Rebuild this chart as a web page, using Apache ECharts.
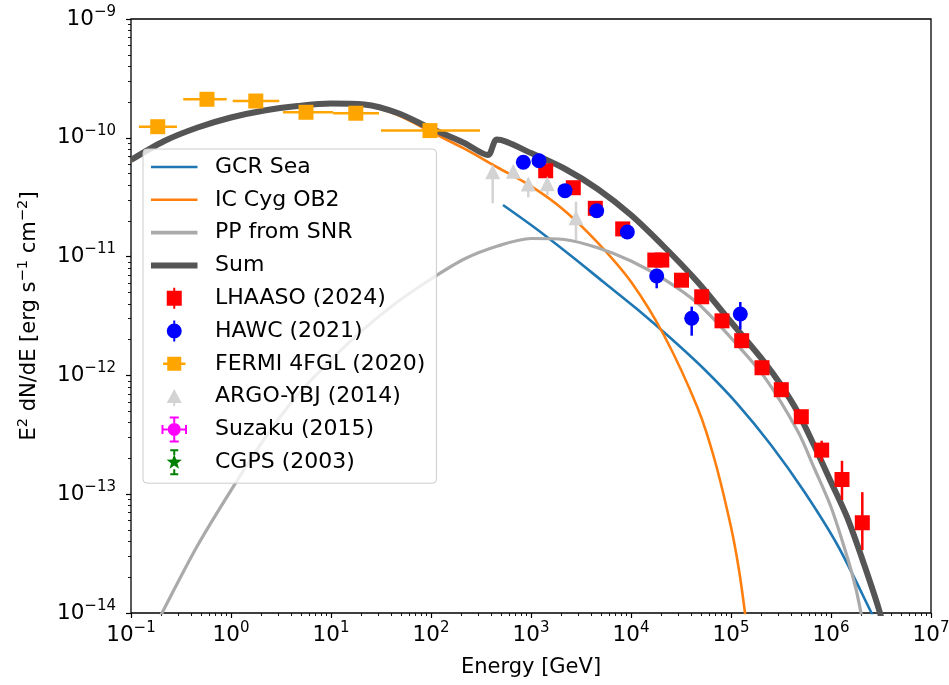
<!DOCTYPE html>
<html>
<head>
<meta charset="utf-8">
<title>Cygnus region gamma-ray SED</title>
<script src="https://cdn.jsdelivr.net/npm/echarts@6/dist/echarts.min.js"></script>
<style>
html, body { margin: 0; padding: 0; background: #fff; }
#chart { width: 949px; height: 685px; }
</style>
</head>
<body>
<div id="chart"></div>
<script>
// Energies in GeV, fluxes as E^2 dN/dE in erg s^-1 cm^-2.

// ---- model curves ----
const gcrE = [525, 1135, 2455, 5309, 11482, 24831, 53703, 116145, 251189, 543250, 1174898, 2540973, 3090295];
const gcrF = [2.718e-11, 1.707e-11, 1.031e-11, 6.11e-12, 3.62e-12, 2.064e-12, 1.132e-12, 5.74e-13, 2.595e-13, 1.043e-13, 3.664e-14, 1.0e-14, 7.05e-15];

const icE = [0.1, 0.2154, 0.4642, 1, 2.154, 4.642, 10, 21.54, 46.42, 100, 215.4, 464.2, 1000, 2154, 4642, 10000, 21544, 46416, 68234, 100000, 120226, 138038, 147911];
const icF = [6.50e-11, 9.308e-11, 1.2087e-10, 1.4533e-10, 1.6647e-10, 1.8163e-10, 1.9066e-10, 1.8700e-10, 1.5553e-10, 1.1212e-10, 8.1018e-11, 5.623e-11, 3.9149e-11, 2.4480e-11, 1.3117e-11, 6.1359e-12, 2.1463e-12, 5.3147e-13, 1.9775e-13, 5.2966e-14, 2.3017e-14, 1.0e-14, 5.925e-15];

const ppE = [0.1549, 0.2154, 0.4642, 1, 2.154, 4.642, 10, 21.54, 46.42, 100, 215.4, 464.2, 1000, 2154, 4642, 10000, 21544, 46416, 100000, 215443, 464159, 682339, 1000000, 1468926, 1778279, 1995262, 2187762];
const ppF = [6.28e-15, 1.0911e-14, 3.714e-14, 1.0785e-13, 2.926e-13, 6.853e-13, 1.3528e-12, 2.477e-12, 4.164e-12, 6.478e-12, 9.545e-12, 1.2280e-11, 1.4206e-11, 1.3933e-11, 1.1858e-11, 9.182e-12, 6.440e-12, 4.045e-12, 2.0687e-12, 9.713e-13, 3.397e-13, 1.6456e-13, 7.804e-14, 2.875e-14, 1.5924e-14, 1.0e-14, 6.79e-15];

const sumE = [0.1, 0.2154, 0.4642, 1, 2.154, 4.642, 10, 21.54, 46.42, 100, 215.4, 371.5, 457.1, 1000, 2154, 4642, 10000, 21544, 46416, 100000, 215443, 316228, 464159, 682339, 1000000, 1445440, 2152782, 3090295, 3548134];
const sumF = [6.50e-11, 9.398e-11, 1.2205e-10, 1.4818e-10, 1.6973e-10, 1.8519e-10, 1.9439e-10, 1.9066e-10, 1.6168e-10, 1.1971e-10, 9.042e-11, 7.163e-11, 9.676e-11, 7.446e-11, 5.515e-11, 3.708e-11, 2.239e-11, 1.2045e-11, 6.112e-12, 2.8150e-12, 1.2963e-12, 8.305e-13, 4.918e-13, 2.544e-13, 1.2665e-13, 6.43e-14, 2.536e-14, 1.0e-14, 5.925e-15];

// ---- measurements ----
const lhaasoE  = [1403, 2649, 4397, 8260, 17300, 20320, 31990, 50930, 81280, 127900, 204200, 318400, 504700, 807000, 1288000, 2056000];
const lhaasoF  = [5.28e-11, 3.80e-11, 2.55e-11, 1.71e-11, 9.35e-12, 9.35e-12, 6.33e-12, 4.59e-12, 2.88e-12, 1.96e-12, 1.16e-12, 7.58e-13, 4.49e-13, 2.35e-13, 1.33e-13, 5.75e-14];
const lhaasoLo = [4.9e-11, 3.55e-11, 2.40e-11, 1.60e-11, 8.8e-12, 8.8e-12, 5.95e-12, 4.30e-12, 2.70e-12, 1.83e-12, 1.08e-12, 7.0e-13, 4.1e-13, 1.88e-13, 8.93e-14, 3.39e-14];
const lhaasoHi = [5.7e-11, 4.05e-11, 2.70e-11, 1.82e-11, 9.9e-12, 9.9e-12, 6.7e-12, 4.9e-12, 3.06e-12, 2.10e-12, 1.24e-12, 8.2e-13, 4.9e-13, 2.82e-13, 1.91e-13, 1.04e-13];

const hawcE  = [838, 1202, 2188, 4540, 9190, 18070, 40460, 123900];
const hawcF  = [6.22e-11, 6.41e-11, 3.59e-11, 2.43e-11, 1.61e-11, 6.87e-12, 3.03e-12, 3.29e-12];
const hawcLo = [5.8e-11, 6.0e-11, 3.35e-11, 2.27e-11, 1.50e-11, 5.41e-12, 2.16e-12, 2.44e-12];
const hawcHi = [6.65e-11, 6.85e-11, 3.85e-11, 2.60e-11, 1.72e-11, 7.9e-12, 3.79e-12, 4.15e-12];

const fermiE   = [0.185, 0.575, 1.77, 5.62, 17.7, 97.7];
const fermiF   = [1.24e-10, 2.11e-10, 2.04e-10, 1.64e-10, 1.61e-10, 1.15e-10];
const fermiElo = [0.12, 0.333, 1.04, 3.31, 10.5, 31.6];
const fermiEhi = [0.288, 0.906, 3.04, 10.5, 30.2, 309];

const argoE  = [414, 666, 940, 1456, 2818];
const argoF  = [5.19e-11, 5.23e-11, 4.08e-11, 4.11e-11, 2.12e-11];
const argoLo = [2.81e-11, 4.6e-11, 3.15e-11, 3.30e-11, 1.38e-11];
const argoHi = [5.19e-11, 5.23e-11, 4.08e-11, 4.11e-11, 2.90e-11];

// Suzaku (X-ray) and CGPS (radio) points lie below 0.1 GeV, outside the plotted range
const suzakuData = [];
const cgpsData = [];

// ---- axis ticks ----
const xMajor = [0.1, 1, 10, 100, 1e3, 1e4, 1e5, 1e6, 1e7];
const yMajor = [1e-14, 1e-13, 1e-12, 1e-11, 1e-10, 1e-9];

function minorTicks(lowExp, highExp) {
  const out = [];
  for (let p = lowExp; p < highExp; p++) {
    for (let m = 2; m <= 9; m++) out.push(Number((m * Math.pow(10, p)).toPrecision(3)));
  }
  return out;
}
const xMinor = minorTicks(-1, 7);
const yMinor = minorTicks(-14, -9);

const FONT = '"DejaVu Sans", sans-serif';
const pairs = (xs, ys) => xs.map((x, i) => [x, ys[i]]);
const expText = p => (p < 0 ? '\u2212' + (-p) : String(p));
const powLabel = v => '{b|10}{s|' + expText(Math.round(Math.log10(v))) + '}';
const labelRich = {
  b: { fontSize: 21.5, color: '#000', fontFamily: FONT },
  s: { fontSize: 15, color: '#000', fontFamily: FONT, padding: [0, 0, 14, 0] }
};

// legend glyphs, drawn in a 59 x 26 box (handle centred at x = 23.25)
const BOX = 'M0 0L0 0M59 26L59 26';
const vBars = 'M22.25 2.5H24.25V5.5H22.25Z M22.25 20.5H24.25V23.5H22.25Z';
const icons = {
  gcr:    BOX + 'M0 11.8H46.5V14.2H0Z',
  ic:     BOX + 'M0 11.8H46.5V14.2H0Z',
  pp:     BOX + 'M0 11.2H46.5V14.8H0Z',
  sum:    BOX + 'M0 10H46.5V16H0Z',
  lhaaso: BOX + 'M15.75 5.5H30.75V20.5H15.75Z ' + vBars,
  hawc:   BOX + 'M15.75 13A7.5 7.5 0 1 1 30.75 13A7.5 7.5 0 1 1 15.75 13Z ' + vBars,
  fermi:  BOX + 'M16.25 6H30.25V20H16.25Z M12 11.8H16.25V14.2H12Z M30.25 11.8H34.5V14.2H30.25Z',
  argo:   BOX + 'M23.25 5.5L30.75 19.5H15.75Z M22.25 19.5H24.25V22.5H22.25Z',
  suzaku: BOX + 'M16.75 13A6.5 6.5 0 1 1 29.75 13A6.5 6.5 0 1 1 16.75 13Z ' +
          'M10.5 12H16.75V14H10.5Z M29.75 12H36V14H29.75Z M10.5 8.5H12.5V17.5H10.5Z M34 8.5H36V17.5H34Z ' +
          'M22.25 1H24.25V6.5H22.25Z M22.25 19.5H24.25V25H22.25Z M18.75 0H27.75V2H18.75Z M18.75 24H27.75V26H18.75Z',
  cgps:   BOX + 'M23.25 5L25.25 10.25L30.86 10.53L26.48 14.05L27.95 19.47L23.25 16.4L18.55 19.47L20.02 14.05L15.64 10.53L21.25 10.25Z ' +
          'M22.25 1H24.25V6H22.25Z M22.25 20H24.25V25H22.25Z M19.25 0H27.25V2H19.25Z M19.25 24H27.25V26H19.25Z'
};

const C = {
  gcr: '#1f77b4', ic: '#ff7f0e', pp: '#aaaaaa', sum: '#555555',
  lhaaso: '#ff0000', hawc: '#0000ff', fermi: '#ffa500', argo: '#d3d3d3',
  suzaku: '#ff00ff', cgps: '#008000'
};

function curve(name, xs, ys, color, width) {
  return {
    type: 'line', name, data: pairs(xs, ys), symbol: 'none', smooth: 0.3,
    clip: true, z: 2, silent: true,
    lineStyle: { color, width, join: 'round' }, itemStyle: { color }
  };
}

function markers(name, xs, ys, symbol, size, color, z) {
  return {
    type: 'scatter', name, data: pairs(xs, ys), symbol, symbolSize: size, z, silent: true,
    itemStyle: { color, opacity: 1, borderWidth: 0 }
  };
}

// vertical (flux) and horizontal (energy) error bars, mapped through the axes
function errorBars(name, color, E, F, fLo, fHi, eLo, eHi, z) {
  return {
    type: 'custom', name, z, silent: true,
    data: E.map((e, i) => [e, F[i], fLo[i], fHi[i], eLo[i], eHi[i]]),
    encode: { x: 0, y: 1 },
    itemStyle: { color },
    renderItem: (params, api) => {
      const e = api.value(0), f = api.value(1);
      const lo = api.value(2), hi = api.value(3), el = api.value(4), eh = api.value(5);
      const kids = [];
      if (hi > lo) {
        const a = api.coord([e, lo]), b = api.coord([e, hi]);
        kids.push({ type: 'line', shape: { x1: a[0], y1: a[1], x2: b[0], y2: b[1] }, style: { stroke: color, lineWidth: 2.5 } });
      }
      if (eh > el) {
        const a = api.coord([el, f]), b = api.coord([eh, f]);
        kids.push({ type: 'line', shape: { x1: a[0], y1: a[1], x2: b[0], y2: b[1] }, style: { stroke: color, lineWidth: 2.5 } });
      }
      return { type: 'group', children: kids };
    }
  };
}

const chart = echarts.init(document.getElementById('chart'), null, { renderer: 'canvas' });

const option = {
  animation: false,
  backgroundColor: '#ffffff',
  textStyle: { fontFamily: FONT },
  grid: {
    left: 131, right: 18, top: 19, bottom: 72,
    show: true, borderColor: '#000', borderWidth: 1.3,
    containLabel: false, outerBoundsMode: 'none'
  },
  legend: {
    orient: 'vertical', left: 143, top: 149, z: 20,
    padding: [5, 11, 8, 8],
    itemWidth: 59, itemHeight: 26, itemGap: 6.8,
    backgroundColor: 'rgba(255,255,255,0.8)',
    borderColor: '#cccccc', borderWidth: 1, borderRadius: 4,
    selectedMode: false,
    itemStyle: { borderWidth: 0 },
    textStyle: { fontFamily: FONT, fontSize: 22, color: '#000' },
    data: [
      { name: 'GCR Sea', icon: 'path://' + icons.gcr, itemStyle: { color: C.gcr } },
      { name: 'IC Cyg OB2', icon: 'path://' + icons.ic, itemStyle: { color: C.ic } },
      { name: 'PP from SNR', icon: 'path://' + icons.pp, itemStyle: { color: C.pp } },
      { name: 'Sum', icon: 'path://' + icons.sum, itemStyle: { color: C.sum } },
      { name: 'LHAASO (2024)', icon: 'path://' + icons.lhaaso, itemStyle: { color: C.lhaaso } },
      { name: 'HAWC (2021)', icon: 'path://' + icons.hawc, itemStyle: { color: C.hawc } },
      { name: 'FERMI 4FGL (2020)', icon: 'path://' + icons.fermi, itemStyle: { color: C.fermi } },
      { name: 'ARGO-YBJ (2014)', icon: 'path://' + icons.argo, itemStyle: { color: C.argo } },
      { name: 'Suzaku (2015)', icon: 'path://' + icons.suzaku, itemStyle: { color: C.suzaku } },
      { name: 'CGPS (2003)', icon: 'path://' + icons.cgps, itemStyle: { color: C.cgps } }
    ]
  },
  xAxis: [
    {
      type: 'log', logBase: 10, min: 0.1, max: 1e7, position: 'bottom',
      axisLine: { show: false }, splitLine: { show: false }, minorTick: { show: false },
      axisTick: { show: true, inside: false, length: 5, customValues: xMajor, lineStyle: { color: '#000', width: 1.2 } },
      axisLabel: { customValues: xMajor, margin: 8, formatter: powLabel, rich: labelRich },
      name: 'Energy [GeV]', nameLocation: 'middle', nameGap: 44, nameMoveOverlap: false,
      nameTextStyle: { fontSize: 21, color: '#000', fontFamily: FONT }
    },
    {
      type: 'log', logBase: 10, min: 0.1, max: 1e7, position: 'bottom',
      axisLine: { show: false }, splitLine: { show: false }, axisLabel: { show: false },
      axisTick: { show: true, inside: false, length: 3, customValues: xMinor, lineStyle: { color: '#000', width: 0.9 } }
    }
  ],
  yAxis: [
    {
      type: 'log', logBase: 10, min: 1e-14, max: 1e-9, position: 'left',
      axisLine: { show: false }, splitLine: { show: false }, minorTick: { show: false },
      axisTick: { show: true, inside: false, length: 5, customValues: yMajor, lineStyle: { color: '#000', width: 1.2 } },
      axisLabel: { customValues: yMajor, margin: 15, formatter: powLabel, rich: labelRich },
      name: '{m|E}{s|2}{m| dN/dE [erg s}{s|\u22121}{m| cm}{s|\u22122}{m|]}',
      nameLocation: 'middle', nameGap: 88, nameMoveOverlap: false,
      nameTextStyle: {
        fontSize: 21, color: '#000', fontFamily: FONT,
        rich: {
          m: { fontSize: 21, color: '#000', fontFamily: FONT },
          s: { fontSize: 14.7, color: '#000', fontFamily: FONT, padding: [0, 0, 12, 0] }
        }
      }
    },
    {
      type: 'log', logBase: 10, min: 1e-14, max: 1e-9, position: 'left',
      axisLine: { show: false }, splitLine: { show: false }, axisLabel: { show: false },
      axisTick: { show: true, inside: false, length: 3, customValues: yMinor, lineStyle: { color: '#000', width: 0.9 } }
    }
  ],
  series: [
    curve('GCR Sea', gcrE, gcrF, C.gcr, 2.6),
    curve('IC Cyg OB2', icE, icF, C.ic, 2.6),
    curve('PP from SNR', ppE, ppF, C.pp, 3.2),
    curve('Sum', sumE, sumF, C.sum, 6),

    markers('LHAASO (2024)', lhaasoE, lhaasoF, 'rect', 15, C.lhaaso, 5),
    markers('HAWC (2021)', hawcE, hawcF, 'circle', 15, C.hawc, 7),
    markers('FERMI 4FGL (2020)', fermiE, fermiF, 'rect', 15, C.fermi, 9),
    markers('ARGO-YBJ (2014)', argoE, argoF, 'triangle', 15, C.argo, 11),
    markers('Suzaku (2015)', [], suzakuData, 'circle', 13, C.suzaku, 12),
    markers('CGPS (2003)', [], cgpsData, 'path://M0 -1L0.29 -0.4L0.95 -0.31L0.48 0.15L0.59 0.81L0 0.5L-0.59 0.81L-0.48 0.15L-0.95 -0.31L-0.29 -0.4Z', 15, C.cgps, 12),

    errorBars('LHAASO (2024)', C.lhaaso, lhaasoE, lhaasoF, lhaasoLo, lhaasoHi, lhaasoE, lhaasoE, 4),
    errorBars('HAWC (2021)', C.hawc, hawcE, hawcF, hawcLo, hawcHi, hawcE, hawcE, 6),
    errorBars('FERMI 4FGL (2020)', C.fermi, fermiE, fermiF, fermiF, fermiF, fermiElo, fermiEhi, 8),
    errorBars('ARGO-YBJ (2014)', C.argo, argoE, argoF, argoLo, argoHi, argoE, argoE, 10)
  ]
};

chart.setOption(option);
</script>
</body>
</html>
